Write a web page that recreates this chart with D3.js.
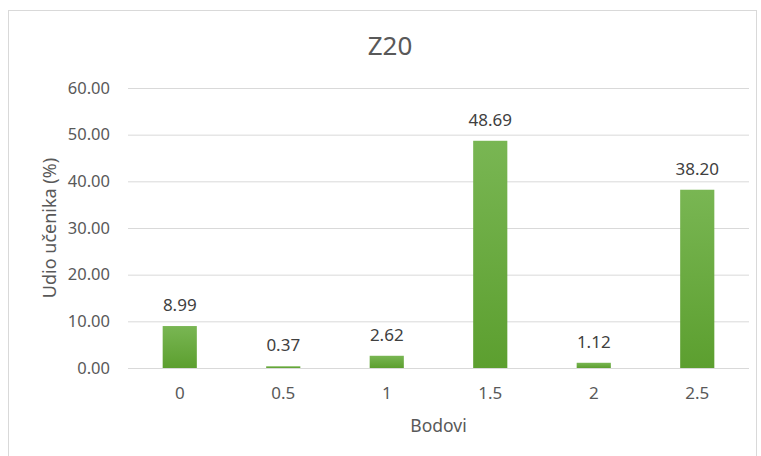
<!DOCTYPE html>
<html>
<head>
<meta charset="utf-8">
<script src="https://cdn.jsdelivr.net/npm/d3@7"></script>
<style>
  body { margin: 0; background: #fff; }
  svg { font-family: "Noto Sans", "Open Sans", sans-serif; }
</style>
</head>
<body>
<div id="chartArea"></div>
<script>
const categories = ["0", "0.5", "1", "1.5", "2", "2.5"];
const shares = [8.99, 0.37, 2.62, 48.69, 1.12, 38.20];
const yTicks = [0, 10, 20, 30, 40, 50, 60];

const W = 761, H = 456;
const margin = { top: 88, left: 128 },
    width = 749 - margin.left,
    height = 368 - margin.top;

const svg = d3.select("#chartArea").append("svg")
    .attr("width", W)
    .attr("height", H);

// chart frame
svg.append("rect")
    .attr("x", 8.5).attr("y", 10.5)
    .attr("width", 748).attr("height", 460)
    .attr("fill", "#fff")
    .attr("stroke", "#d9d9d9");

const defs = svg.append("defs");
const grad = defs.append("linearGradient")
    .attr("id", "barGrad")
    .attr("x1", 0).attr("y1", 0).attr("x2", 0).attr("y2", 1);
grad.append("stop").attr("offset", "0%").attr("stop-color", "#79b653");
grad.append("stop").attr("offset", "100%").attr("stop-color", "#5c9f2f");

const g = svg.append("g")
    .attr("transform", `translate(${margin.left},${margin.top})`);

const x = d3.scaleBand().domain(categories).range([0, width])
    .paddingInner(0.67).paddingOuter(0.335);
const y = d3.scaleLinear().domain([0, 60]).range([height, 0]);

// gridlines
g.selectAll("line.grid")
    .data(yTicks)
    .enter().append("line")
    .attr("class", "grid")
    .attr("x1", 0).attr("x2", width)
    .attr("y1", d => y(d) + 0.5).attr("y2", d => y(d) + 0.5)
    .attr("stroke", "#d9d9d9")
    .attr("stroke-width", 1);

// y tick labels
g.selectAll("text.ytick")
    .data(yTicks)
    .enter().append("text")
    .attr("class", "ytick")
    .attr("x", -18)
    .attr("y", d => y(d))
    .attr("dy", "0.35em")
    .attr("text-anchor", "end")
    .attr("fill", "#595959")
    .style("font-size", "16.5px")
    .text(d => d.toFixed(2));

// bars
const data = categories.map((c, i) => ({ cat: c, v: shares[i] }));
g.selectAll("rect.bar")
    .data(data)
    .enter().append("rect")
    .attr("class", "bar")
    .attr("x", d => x(d.cat))
    .attr("y", d => y(d.v))
    .attr("width", x.bandwidth())
    .attr("height", d => height - y(d.v))
    .attr("fill", "url(#barGrad)");

// value labels
g.selectAll("text.val")
    .data(data)
    .enter().append("text")
    .attr("class", "val")
    .attr("x", d => x(d.cat) + x.bandwidth() / 2)
    .attr("y", d => y(d.v) - 15)
    .attr("text-anchor", "middle")
    .attr("fill", "#404040")
    .style("font-size", "17px")
    .text(d => d.v.toFixed(2));

// x tick labels
g.selectAll("text.xtick")
    .data(categories)
    .enter().append("text")
    .attr("class", "xtick")
    .attr("x", d => x(d) + x.bandwidth() / 2)
    .attr("y", height + 31)
    .attr("text-anchor", "middle")
    .attr("fill", "#595959")
    .style("font-size", "17px")
    .text(d => d);

// axis titles
svg.append("text")
    .attr("x", margin.left + width / 2)
    .attr("y", 432)
    .attr("text-anchor", "middle")
    .attr("fill", "#595959")
    .style("font-size", "17.5px")
    .text("Bodovi");

svg.append("text")
    .attr("transform", `translate(56, ${margin.top + height / 2}) rotate(-90)`)
    .attr("text-anchor", "middle")
    .attr("fill", "#595959")
    .style("font-size", "18px")
    .text("Udio učenika (%)");

// title
svg.append("text")
    .attr("x", 390)
    .attr("y", 55)
    .attr("text-anchor", "middle")
    .attr("fill", "#595959")
    .style("font-size", "26px")
    .text("Z20");
</script>
</body>
</html>
